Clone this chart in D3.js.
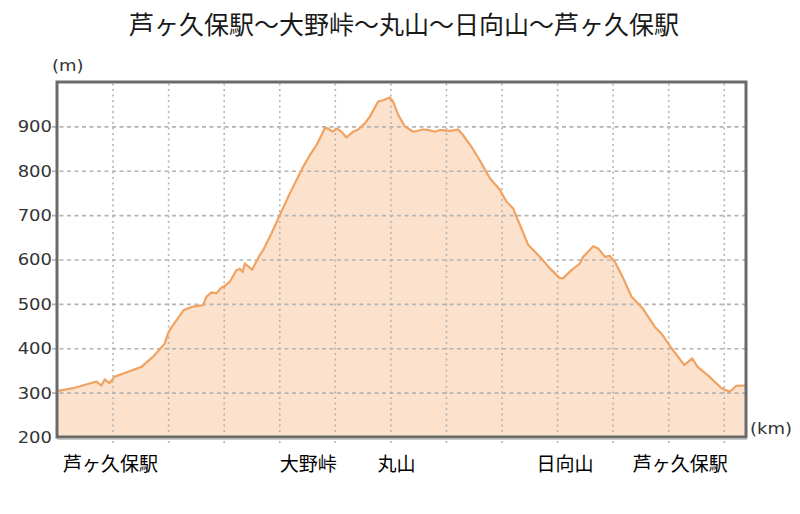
<!DOCTYPE html>
<html>
<head>
<meta charset="utf-8">
<script src="https://cdn.jsdelivr.net/npm/d3@7"></script>
<style>
  html, body { margin: 0; padding: 0; background: #fff; }
  svg { display: block; }
</style>
</head>
<body>
<svg id="chart" width="800" height="514"></svg>
<script>
// ---- data ----
const titleText = "芦ヶ久保駅～大野峠～丸山～日向山～芦ヶ久保駅";
const distanceKm = [0, 0.02, 0.29, 0.71, 0.80, 0.86, 0.94, 1.04, 1.28, 1.52, 1.73, 1.94, 2.00, 2.06, 2.28, 2.45, 2.63, 2.69, 2.78, 2.87, 2.96, 3.02, 3.11, 3.23, 3.29, 3.34, 3.38, 3.51, 3.65, 3.71, 3.86, 4.01, 4.19, 4.43, 4.55, 4.67, 4.76, 4.82, 4.88, 4.96, 5.04, 5.12, 5.21, 5.33, 5.42, 5.54, 5.63, 5.78, 5.87, 5.99, 6.05, 6.14, 6.26, 6.41, 6.59, 6.68, 6.80, 6.89, 7.07, 7.22, 7.31, 7.46, 7.61, 7.79, 7.97, 8.09, 8.21, 8.48, 8.69, 8.87, 9.05, 9.11, 9.26, 9.41, 9.47, 9.65, 9.74, 9.86, 9.95, 10.04, 10.19, 10.34, 10.54, 10.76, 10.88, 11.06, 11.29, 11.43, 11.53, 11.74, 11.96, 12.11, 12.22, 12.40];
const elevationM = [303, 304, 310, 325, 316, 330, 321, 336, 347, 358, 381, 411, 434, 447, 486, 494, 497, 516, 526, 524, 537, 540, 550, 576, 579, 572, 591, 577, 610, 621, 659, 700, 749, 809, 835, 858, 880, 897, 895, 888, 895, 888, 875, 888, 893, 907, 922, 956, 959, 965, 956, 926, 900, 888, 893, 892, 888, 892, 890, 893, 880, 854, 823, 783, 757, 730, 715, 633, 606, 580, 558, 558, 576, 591, 606, 630, 625, 606, 608, 595, 558, 516, 490, 448, 433, 400, 362, 377, 358, 336, 310, 302, 315, 316];
const yTicks = [200, 300, 400, 500, 600, 700, 800, 900];
const xGridKm = [1, 2, 3, 4, 5, 6, 7, 8, 9, 10, 11, 12];
const placeNames = ["芦ヶ久保駅", "大野峠", "丸山", "日向山", "芦ヶ久保駅"];
const placeLabelKm = [0.11, 4.01, 5.77, 8.63, 10.36];
const yUnit = "(m)";
const xUnit = "(km)";

// ---- layout ----
const plotL = 57, plotR = 746, plotT = 82, plotB = 437;
const stretch = 1.2;
const svg = d3.select("#chart");

const x = d3.scaleLinear().domain([0, 12.4]).range([plotL, plotR]);
const y = d3.scaleLinear().domain([200, 1000]).range([plotB, plotT]);

const pts = distanceKm.map((d, i) => [d, elevationM[i]]);

// area fill
svg.append("path")
  .datum(pts)
  .attr("fill", "#fce2cc")
  .attr("d", d3.area().x(d => x(d[0])).y0(y(200)).y1(d => y(d[1])));

// horizontal grid + y labels
const yAxis = svg.append("g")
  .attr("transform", `translate(${plotL},0)`)
  .call(d3.axisLeft(y).tickValues(yTicks).tickSize(-(plotR - plotL)).tickPadding(0).tickFormat(d3.format("d")));
yAxis.select(".domain").remove();
yAxis.selectAll(".tick line")
  .attr("x1", -5)
  .attr("stroke", "#b4b4b4")
  .attr("stroke-width", 1.6)
  .attr("stroke-dasharray", "4,3.5")
  .filter(d => d === 200).remove();
yAxis.selectAll(".tick text")
  .attr("x", 0)
  .attr("dy", "0.36em")
  .attr("transform", `translate(-5,0) scale(${stretch},1)`)
  .attr("fill", "#333")
  .style("font-family", "'DejaVu Sans', Verdana, sans-serif")
  .style("font-size", "15px");

// vertical grid
const xAxis = svg.append("g")
  .attr("transform", `translate(0,${plotB + 6})`)
  .call(d3.axisBottom(x).tickValues(xGridKm).tickSize(-(plotB + 6 - plotT)).tickFormat(""));
xAxis.select(".domain").remove();
xAxis.selectAll(".tick line")
  .attr("stroke", "#b4b4b4")
  .attr("stroke-width", 1.6)
  .attr("stroke-dasharray", "2,3.5");

// profile line
svg.append("path")
  .datum(pts)
  .attr("fill", "none")
  .attr("stroke", "#f0a262")
  .attr("stroke-width", 2.2)
  .attr("stroke-linejoin", "round")
  .attr("d", d3.line().x(d => x(d[0])).y(d => y(d[1])));

// frame
svg.append("rect")
  .attr("x", plotL).attr("y", plotT)
  .attr("width", plotR - plotL).attr("height", plotB - plotT)
  .attr("fill", "none")
  .attr("stroke", "#6a6a6a")
  .attr("stroke-width", 3);
svg.append("line")
  .attr("x1", plotL).attr("x2", plotR + 1)
  .attr("y1", plotB + 2.5).attr("y2", plotB + 2.5)
  .attr("stroke", "#c8c8c8").attr("stroke-width", 1);

// unit labels
svg.append("text")
  .attr("transform", `translate(52,71) scale(${stretch},1)`)
  .attr("fill", "#333")
  .style("font-family", "'DejaVu Sans', Verdana, sans-serif")
  .style("font-size", "15px")
  .text(yUnit);
svg.append("text")
  .attr("transform", `translate(750,434) scale(${stretch},1)`)
  .attr("fill", "#333")
  .style("font-family", "'DejaVu Sans', Verdana, sans-serif")
  .style("font-size", "15px")
  .text(xUnit);

// title
svg.append("text")
  .attr("x", 404).attr("y", 34)
  .attr("text-anchor", "middle")
  .attr("fill", "#1a1a1a")
  .style("font-family", "'Noto Sans CJK JP', sans-serif")
  .style("font-size", "25px")
  .text(titleText);

// place labels
svg.append("g").selectAll("text")
  .data(placeNames)
  .join("text")
  .attr("x", (d, i) => x(placeLabelKm[i]))
  .attr("y", 471)
  .attr("fill", "#000")
  .style("font-family", "'Noto Sans CJK JP', sans-serif")
  .style("font-size", "19px")
  .text(d => d);
</script>
</body>
</html>
